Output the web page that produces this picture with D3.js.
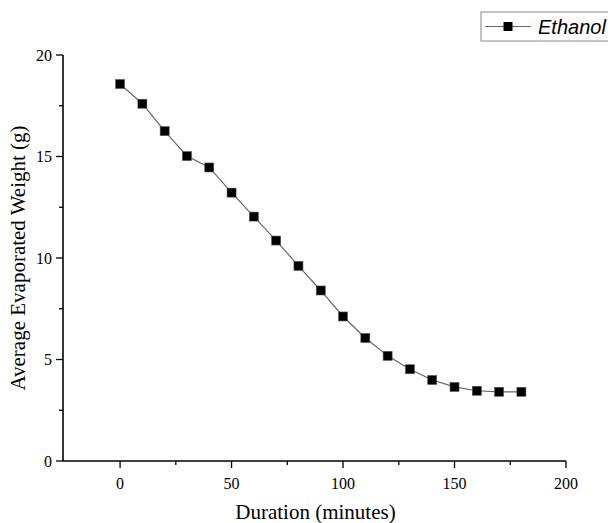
<!DOCTYPE html>
<html>
<head>
<meta charset="utf-8">
<script src="https://cdn.jsdelivr.net/npm/d3@7"></script>
<style>
  body { margin: 0; background: #fff; }
  svg text { font-family: "Liberation Serif", "Times New Roman", serif; }
  svg text.legend { font-family: "Liberation Sans", Arial, sans-serif; font-style: italic; }
</style>
</head>
<body>
<div id="chart"></div>
<script>
// Ethanol evaporation readings
var minutes = [0, 10, 20, 30, 40, 50, 60, 70, 80, 90, 100, 110, 120, 130, 140, 150, 160, 170, 180];
var weight = [18.57, 17.6, 16.25, 15.02, 14.46, 13.22, 12.04, 10.86, 9.61, 8.4, 7.12, 6.06, 5.18, 4.52, 3.99, 3.65, 3.46, 3.41, 3.41];
var xTicks = [0, 50, 100, 150, 200];
var yTicks = [0, 5, 10, 15, 20];
var seriesName = "Ethanol";

var width = 608, height = 523;
var margin = {top: 55, right: 42, bottom: 62, left: 63};

var svg = d3.select("#chart").append("svg")
  .attr("width", width)
  .attr("height", height);

var x = d3.scaleLinear().domain([-25.6, 200]).range([margin.left, width - margin.right]);
var y = d3.scaleLinear().domain([0, 20]).range([height - margin.bottom, margin.top]);

// x axis
var xAxis = svg.append("g")
  .attr("transform", "translate(0," + y(0) + ")");
xAxis.append("line")
  .attr("x1", x.range()[0]).attr("x2", x.range()[1])
  .attr("stroke", "#000").attr("stroke-width", 1.6);
xAxis.selectAll(".minor")
  .data([25, 75, 125, 175])
  .enter().append("line")
  .attr("x1", d => x(d)).attr("x2", d => x(d))
  .attr("y1", 0).attr("y2", 4)
  .attr("stroke", "#000").attr("stroke-width", 1.3);
xAxis.selectAll(".major")
  .data(xTicks)
  .enter().append("line")
  .attr("x1", d => x(d)).attr("x2", d => x(d))
  .attr("y1", 0).attr("y2", 7)
  .attr("stroke", "#000").attr("stroke-width", 1.3);
xAxis.selectAll(".lbl")
  .data(xTicks)
  .enter().append("text")
  .attr("x", d => x(d)).attr("y", 28)
  .attr("text-anchor", "middle")
  .attr("font-size", 16)
  .text(d => d);

// y axis
var yAxis = svg.append("g")
  .attr("transform", "translate(" + x.range()[0] + ",0)");
yAxis.append("line")
  .attr("y1", y(0)).attr("y2", y(20))
  .attr("stroke", "#000").attr("stroke-width", 1.6);
yAxis.selectAll(".minor")
  .data([2.5, 7.5, 12.5, 17.5])
  .enter().append("line")
  .attr("y1", d => y(d)).attr("y2", d => y(d))
  .attr("x1", 0).attr("x2", -4)
  .attr("stroke", "#000").attr("stroke-width", 1.3);
yAxis.selectAll(".major")
  .data(yTicks)
  .enter().append("line")
  .attr("y1", d => y(d)).attr("y2", d => y(d))
  .attr("x1", 0).attr("x2", -7)
  .attr("stroke", "#000").attr("stroke-width", 1.3);
yAxis.selectAll(".lbl")
  .data(yTicks)
  .enter().append("text")
  .attr("x", -11).attr("y", d => y(d))
  .attr("dy", "0.35em")
  .attr("text-anchor", "end")
  .attr("font-size", 16)
  .text(d => d);

// axis titles
svg.append("text")
  .attr("x", (x(-25.6) + x(200)) / 2 + 1)
  .attr("y", 519)
  .attr("text-anchor", "middle")
  .attr("font-size", 21)
  .text("Duration (minutes)");
svg.append("text")
  .attr("transform", "translate(25," + ((y(0) + y(20)) / 2) + ") rotate(-90)")
  .attr("text-anchor", "middle")
  .attr("font-size", 21)
  .text("Average Evaporated Weight (g)");

// data
var pts = minutes.map((m, i) => ({m: m, w: weight[i]}));
var line = d3.line().x(d => x(d.m)).y(d => y(d.w));
svg.append("path")
  .datum(pts)
  .attr("d", line)
  .attr("fill", "none")
  .attr("stroke", "#666")
  .attr("stroke-width", 1.2);
svg.selectAll(".pt")
  .data(pts)
  .enter().append("rect")
  .attr("x", d => x(d.m) - 4.5)
  .attr("y", d => y(d.w) - 4.5)
  .attr("width", 9).attr("height", 9)
  .attr("fill", "#000")
  .attr("stroke", "#555")
  .attr("stroke-width", 0.6);

// legend
var lg = svg.append("g").attr("transform", "translate(481,12)");
lg.append("rect")
  .attr("width", 140).attr("height", 29)
  .attr("fill", "#fff")
  .attr("stroke", "#888").attr("stroke-width", 1);
lg.append("line")
  .attr("x1", 4).attr("x2", 50).attr("y1", 14.5).attr("y2", 14.5)
  .attr("stroke", "#666").attr("stroke-width", 1.2);
lg.append("rect")
  .attr("x", 22.5).attr("y", 10).attr("width", 9).attr("height", 9)
  .attr("fill", "#000");
lg.append("text")
  .attr("class", "legend")
  .attr("x", 57).attr("y", 22)
  .attr("font-size", 20)
  .text(seriesName);
</script>
</body>
</html>
